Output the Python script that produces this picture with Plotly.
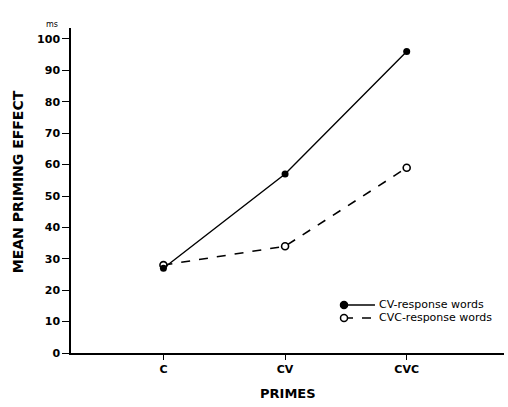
import plotly.graph_objects as go

primes = ["C", "CV", "CVC"]
x_pos = [1, 2, 3]
cv_response = [27, 57, 96]
cvc_response = [28, 34, 59]
y_ticks = [0, 10, 20, 30, 40, 50, 60, 70, 80, 90, 100]
series_names = ["CV-response words", "CVC-response words"]

FONT = "DejaVu Sans"

fig = go.Figure()
fig.add_trace(go.Scatter(
    x=x_pos, y=cvc_response, mode="lines+markers", name=series_names[1],
    line=dict(color="black", width=1.6, dash="dash"),
    marker=dict(symbol="circle", size=7, color="white", line=dict(color="black", width=1.6)),
    showlegend=False,
))
fig.add_trace(go.Scatter(
    x=x_pos, y=cv_response, mode="lines+markers", name=series_names[0],
    line=dict(color="black", width=1.4),
    marker=dict(symbol="circle", size=7, color="black"),
    showlegend=False,
))

# manual legend (paper coordinates)
leg_rows = [0.1477, 0.1077]
mx, lx1, tx = 0.6305, 0.702, 0.707
shapes = []
annotations = []
for i, yy in enumerate(leg_rows):
    shapes.append(dict(type="line", xref="paper", yref="paper", x0=mx, x1=lx1, y0=yy, y1=yy,
                       line=dict(color="black", width=1.5, dash="solid" if i == 0 else "dash")))
    shapes.append(dict(type="circle", xref="paper", yref="paper", xsizemode="pixel",
                       ysizemode="pixel", xanchor=mx, yanchor=yy, x0=-3.5, x1=3.5, y0=-3.5, y1=3.5,
                       fillcolor="black" if i == 0 else "white",
                       line=dict(color="black", width=1.5)))
    annotations.append(dict(text=series_names[i], xref="paper", yref="paper", x=tx, y=yy,
                            xanchor="left", yanchor="middle", showarrow=False,
                            font=dict(size=11, family=FONT)))

annotations += [
    dict(text="<b>MEAN PRIMING EFFECT</b>", xref="paper", yref="paper",
         x=-0.122, y=0.526, textangle=-90, showarrow=False,
         font=dict(size=14, family=FONT), xanchor="center", yanchor="middle"),
    dict(text="<b>PRIMES</b>", xref="paper", yref="paper",
         x=0.502, y=-0.126, showarrow=False, xanchor="center", yanchor="middle",
         font=dict(size=13, family=FONT)),
    dict(text="ms", xref="paper", yref="paper", x=-0.025, y=0.99,
         showarrow=False, xanchor="right", yanchor="bottom",
         font=dict(size=8, family=FONT)),
]

fig.update_layout(
    width=508, height=407,
    margin=dict(l=71, r=4, t=28, b=54),
    paper_bgcolor="white", plot_bgcolor="white",
    font=dict(family=FONT, color="black", size=11),
    showlegend=False,
    xaxis=dict(range=[0.24, 3.8], tickvals=x_pos, ticktext=[f"<b>{p}</b>" for p in primes],
               showgrid=False, zeroline=False, showline=True, linecolor="black",
               linewidth=1.5, ticks="outside", ticklen=5, tickcolor="black",
               tickfont=dict(size=11, family=FONT)),
    yaxis=dict(range=[0, 103.5], tickvals=y_ticks, ticktext=[f"<b>{v}</b>" for v in y_ticks],
               showgrid=False, zeroline=False, showline=True, linecolor="black",
               linewidth=1.5, ticks="outside", ticklen=7, tickcolor="black",
               tickfont=dict(size=11, family=FONT)),
    shapes=shapes,
    annotations=annotations,
)

fig.write_html("out.html", config={"displayModeBar": False},
               post_script="document.body.style.margin='0';")
